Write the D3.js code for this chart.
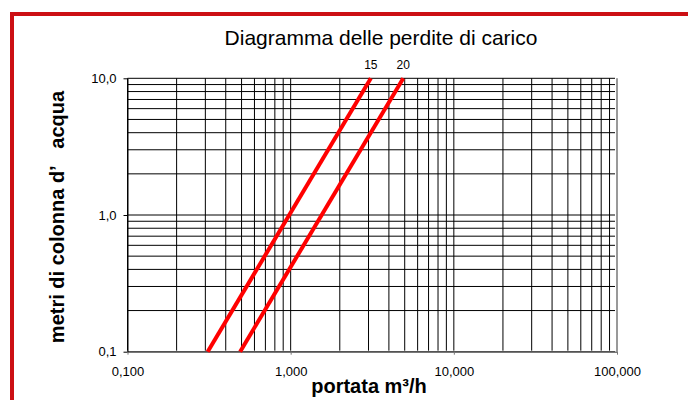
<!DOCTYPE html>
<html>
<head>
<meta charset="utf-8">
<script src="https://cdn.jsdelivr.net/npm/d3@7"></script>
<style>
  body { margin: 0; background: #fff; }
  text { font-family: "Liberation Sans", Arial, sans-serif; }
</style>
</head>
<body>
<div id="chart"></div>
<script>
// tick values and labels
let xTicks = [0.1, 1, 10, 100]
let xTickLabels = ["0,100", "1,000", "10,000", "100,000"]
let yTicks = [0.1, 1, 10]
let yTickLabels = ["0,1", "1,0", "10,0"]

// grid: multipliers inside each decade
let gridSteps = [1, 2, 3, 4, 5, 6, 7, 8, 9]
let xDecades = [0.1, 1, 10]
let yDecades = [0.1, 1]

// curves (portata m3/h, perdita m c.a.)
let curveNames = ["15", "20"]
let flow15 = [0.31, 3.1]
let head15 = [0.1, 10]
let flow20 = [0.49, 4.9]
let head20 = [0.1, 10]

let svg = d3.select("#chart")
.append("svg")
.attr("width", 688)
.attr("height", 400)

let margin = {top: 78.3, right: 71, bottom: 48.3, left: 127.5}
let width = 688 - margin.left - margin.right
let height = 400 - margin.top - margin.bottom

let x = d3.scaleLog()
.domain([0.1, 100])
.range([margin.left, margin.left + width])

let y = d3.scaleLog()
.domain([0.1, 10])
.range([margin.top + height, margin.top])

// red frame
svg.append("rect")
.attr("x", 12)
.attr("y", 14)
.attr("width", 700)
.attr("height", 420)
.attr("fill", "none")
.attr("stroke", "#cc0f14")
.attr("stroke-width", 4)

// title
svg.append("text")
.attr("x", 381)
.attr("y", 45)
.text("Diagramma delle perdite di carico")
.style("text-anchor", "middle")
.style("font-size", "21px")
.style("fill", "#000")

let xGrid = []
xDecades.forEach(d => gridSteps.forEach(s => xGrid.push(d * s)))
xGrid.push(100)
let yGrid = []
yDecades.forEach(d => gridSteps.forEach(s => yGrid.push(d * s)))
yGrid.push(10)

// horizontal grid
svg.selectAll(".hgrid")
.data(yGrid)
.enter()
.append("line")
.attr("class", "hgrid")
.attr("x1", x(0.1))
.attr("x2", x(100) - 2)
.attr("y1", d => y(d))
.attr("y2", d => y(d))
.attr("stroke", "#000")
.attr("stroke-width", 1)

// vertical grid
svg.selectAll(".vgrid")
.data(xGrid.slice(0, -1))
.enter()
.append("line")
.attr("class", "vgrid")
.attr("x1", d => x(d))
.attr("x2", d => x(d))
.attr("y1", y(10))
.attr("y2", y(0.1) - 1)
.attr("stroke", "#000")
.attr("stroke-width", 1)

// right border
svg.append("line")
.attr("x1", x(100))
.attr("x2", x(100))
.attr("y1", y(10))
.attr("y2", y(0.1))
.attr("stroke", "#777")
.attr("stroke-width", 1.5)

// x axis
let xAxis = svg.append("g")
.attr("transform", "translate(0," + y(0.1) + ")")
.call(d3.axisBottom(x)
.tickValues(xTicks)
.tickSize(3)
.tickSizeOuter(0)
.tickPadding(12)
.tickFormat((d, i) => xTickLabels[i]))
xAxis.select(".domain").attr("stroke", "#777").attr("stroke-width", 1.5)
xAxis.selectAll(".tick line").attr("stroke", "#777")
xAxis.selectAll("text").style("font-size", "13px").attr("fill", "#000")

// y axis
let yAxis = svg.append("g")
.attr("transform", "translate(" + x(0.1) + ",0)")
.call(d3.axisLeft(y)
.tickValues(yTicks)
.tickSize(4)
.tickSizeOuter(0)
.tickPadding(7)
.tickFormat((d, i) => yTickLabels[i]))
yAxis.select(".domain").attr("stroke", "#000")
yAxis.selectAll(".tick line").attr("stroke", "#000")
yAxis.selectAll("text").style("font-size", "13px").attr("fill", "#000")

// curves
let curves = [
  {name: curveNames[0], pts: flow15.map((f, i) => [f, head15[i]])},
  {name: curveNames[1], pts: flow20.map((f, i) => [f, head20[i]])}
]

let line = d3.line()
.x(d => x(d[0]))
.y(d => y(d[1]))

svg.selectAll(".curve")
.data(curves)
.enter()
.append("path")
.attr("class", "curve")
.attr("d", d => line(d.pts))
.attr("fill", "none")
.attr("stroke", "#ff0000")
.attr("stroke-width", 4)

svg.selectAll(".curve-label")
.data(curves)
.enter()
.append("text")
.attr("class", "curve-label")
.attr("x", d => x(d.pts[1][0]))
.attr("y", y(10) - 9)
.text(d => d.name)
.style("text-anchor", "middle")
.style("font-size", "12px")

// axis titles
svg.append("text")
.attr("x", 369)
.attr("y", 393)
.text("portata m³/h")
.attr("font-weight", "bold")
.style("text-anchor", "middle")
.style("font-size", "20px")

svg.append("text")
.attr("transform", "translate(64,217) rotate(-90)")
.text("metri di colonna d’\u00a0\u00a0\u00a0acqua")
.attr("font-weight", "bold")
.style("text-anchor", "middle")
.style("font-size", "20px")
</script>
</body>
</html>
